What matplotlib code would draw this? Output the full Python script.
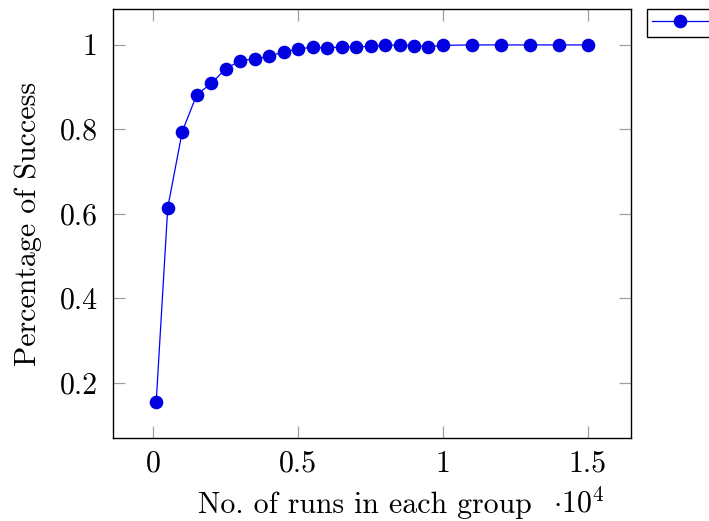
import numpy as np
import matplotlib
matplotlib.use("Agg")
import matplotlib.pyplot as plt
from matplotlib.ticker import FuncFormatter

plt.rcParams['font.family'] = ['cmr10', 'DejaVu Serif']
plt.rcParams['mathtext.fontset'] = 'cm'
plt.rcParams['axes.formatter.use_mathtext'] = True

# runs per group and success rate
runs = [100, 500, 1000, 1500, 2000, 2500, 3000, 3500, 4000, 4500, 5000,
        5500, 6000, 6500, 7000, 7500, 8000, 8500, 9000, 9500, 10000,
        11000, 12000, 13000, 14000, 15000]
success = [0.153, 0.614, 0.794, 0.881, 0.908, 0.942, 0.962, 0.966, 0.972,
           0.983, 0.989, 0.994, 0.991, 0.995, 0.994, 0.996, 0.998, 0.999,
           0.997, 0.995, 0.998, 0.999, 0.999, 0.999, 0.999, 0.999]

xticks = [0, 5000, 10000, 15000]
yticks = [0.2, 0.4, 0.6, 0.8, 1.0]

fs = 21.5
fig = plt.figure(figsize=(7.09, 5.21), dpi=100)
ax = fig.add_axes([113/709, 1-438/521, (631-113)/709, (438-9)/521])

ax.plot(runs, success, color='#0000ff', lw=0.9, marker='o', markersize=8.8,
        markerfacecolor='#0000e0', markeredgecolor='#0000e0', label='      ')

ax.set_xlim(-1390, 16490)
ax.set_ylim(0.069, 1.084)
ax.set_xticks(xticks)
ax.set_yticks(yticks)
ax.xaxis.set_major_formatter(FuncFormatter(lambda v, p: '%g' % (v/1e4)))
ax.yaxis.set_major_formatter(FuncFormatter(lambda v, p: '%g' % v))
ax.tick_params(direction='in', length=8.5, width=0.9, color='#a0a0a0',
               top=True, right=True, labelsize=fs)
ax.tick_params(axis='y', pad=11)
ax.tick_params(axis='x', pad=9)
for s in ax.spines.values():
    s.set_linewidth(1.0)

ax.set_ylabel('Percentage of Success', fontsize=fs, labelpad=13)
fig.text(365/709, 1-505/521, 'No. of runs in each group', fontsize=fs,
         ha='center', va='center')
fig.text(579/709, 1-503/521, r'$\cdot10^4$', fontsize=fs, ha='center', va='center')

leg = ax.legend(loc='upper left', bbox_to_anchor=(647/709, 1-9/521),
                bbox_transform=fig.transFigure, fancybox=False, framealpha=1,
                edgecolor='black', borderpad=0.25, borderaxespad=0,
                handlelength=2.9, handletextpad=0.4, fontsize=14)
leg.get_frame().set_linewidth(1.0)

fig.savefig('out.png', dpi=100)
